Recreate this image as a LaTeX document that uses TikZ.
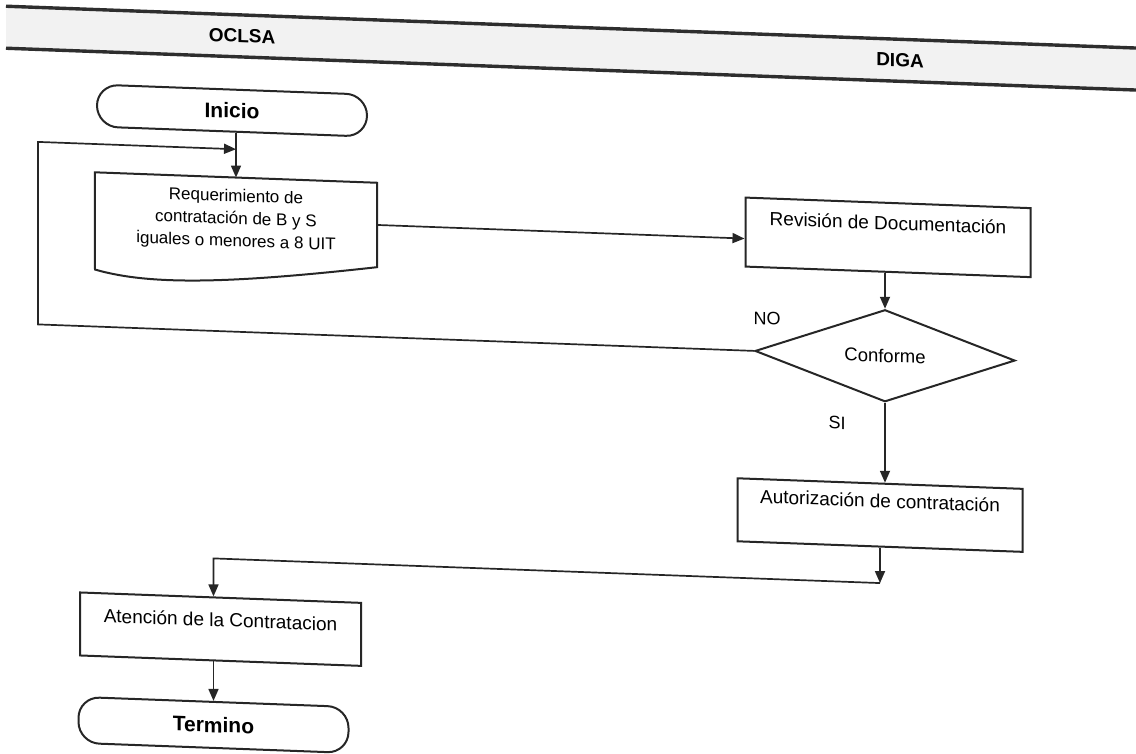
\documentclass[tikz,border=0pt]{standalone}
\usepackage{fontspec}
\setmainfont{Liberation Sans}
\usetikzlibrary{arrows.meta,shapes.geometric}
\begin{document}
\begin{tikzpicture}[x=1pt,y=-1pt,
  ink/.style={draw=black!85, line width=2pt},
  arr/.style={draw=black!85, line width=1.7pt, -{Triangle[length=12pt,width=10pt]}},
  procbox/.style={ink, rectangle, inner xsep=0pt, inner ysep=0pt, minimum width=285pt,
    align=center, anchor=north, font=\fontsize{19}{23}\selectfont},
  termbox/.style={ink, rectangle, rounded corners=21pt, minimum width=270pt,
    inner sep=0pt, font=\bfseries\fontsize{21}{25}\selectfont},
  lane/.style={font=\bfseries\fontsize{19}{23}\selectfont},
  lbl/.style={font=\fontsize{18}{22}\selectfont}
]
\useasboundingbox (0,0) rectangle (1136,753);
\begin{scope}[cm={1,-0.037,0,1,(0,0)}, transform shape]
  % swimlane header band
  \fill[black!5] (6,6) rectangle (1136,48);
  \draw[black!82, line width=3.4pt] (6,6) -- (1136,6);
  \draw[black!82, line width=3.4pt] (6,48) -- (1136,48);
  \node[lane] (oclsa) at (242,27) {OCLSA};
  \node[lane] (diga) at (900,27) {DIGA};

  % start / end terminals
  \node[termbox, minimum height=42pt] (ini) at (232,102) {Inicio};
  \node[termbox, minimum height=46pt] (ter) at (213.5,717) {Termino};

  % document-shaped request
  \node[inner sep=0pt, minimum width=282pt, minimum height=84pt, align=center,
        font=\fontsize{17}{22.5}\selectfont] (req) at (236,211)
        {Requerimiento de\\contratación de B y S\\iguales o menores a 8 UIT};
  \draw[ink] (req.south east) -- (req.north east) -- (req.north west) -- (95,266)
        .. controls (150,280) and (230,275) .. (req.south east) -- cycle;

  % process boxes
  \node[procbox, text height=27pt, text depth=42pt] (rev) at (888,169) {Revisión de Documentación};
  \node[procbox, text height=24pt, text depth=39pt] (aut) at (880,450) {Autorización de contratación};
  \node[procbox, minimum width=281pt, text height=29pt, text depth=34pt] (ate) at (220.5,588.5) {Atención de la Contratacion};

  % decision
  \node[ink, diamond, aspect=2.8, minimum width=260pt, minimum height=92pt, inner sep=0pt,
        font=\fontsize{18.5}{22}\selectfont] (dec) at (885,323) {Conforme};
  \node[lbl] (no) at (767,290) {NO};
  \node[lbl] (si) at (837,392) {SI};

  % junction points
  \coordinate (cj) at (880,550.5);
  \coordinate (lp) at (38,140.5);

  % connectors
  \draw[arr] (ini.south -| req.north) -- (req.north);
  \draw[arr] (req.east) -- (req.east -| rev.west);
  \draw[arr] (rev.south -| dec.north) -- (dec.north);
  \draw[arr] (dec.south) -- (dec.south |- aut.north);
  \draw[arr] (aut.south) -- (cj);
  \draw[arr] (cj) -| (ate.north -| ter.north);
  \draw[arr] (ate.south -| ter.north) -- (ter.north);
  \draw[arr] (dec.west) -| (lp) -- (lp -| req.north);
\end{scope}
\end{tikzpicture}
\end{document}
